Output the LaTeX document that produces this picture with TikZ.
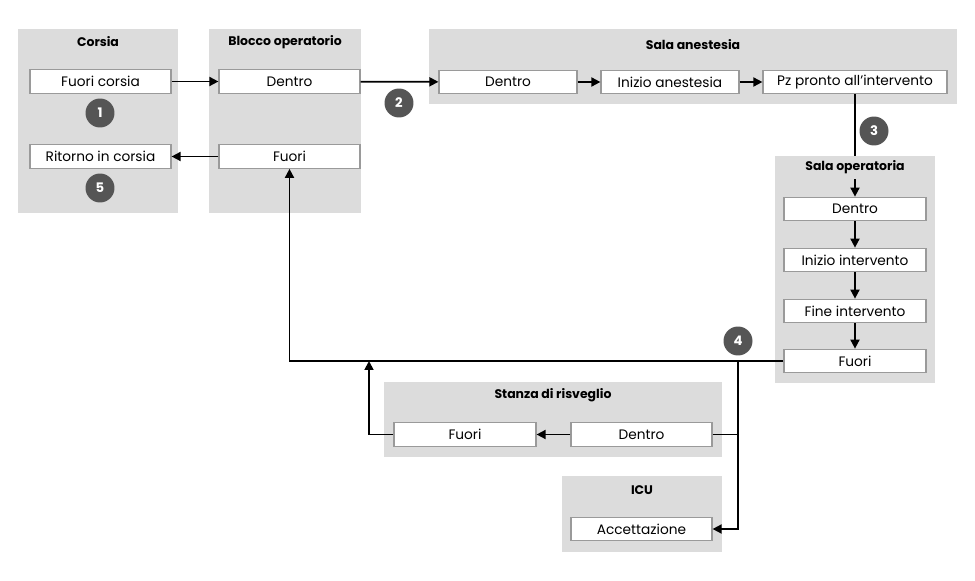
\documentclass[tikz,border=0pt]{standalone}
\usepackage{fontspec}
\setmainfont{Poppins}
\usetikzlibrary{positioning,arrows.meta}
\definecolor{panelgray}{HTML}{DCDCDC}
\definecolor{boxgray}{HTML}{9A9A9A}
\definecolor{stepgray}{HTML}{555555}

\begin{document}
\begin{tikzpicture}[x=0.02cm, y=-0.02cm,
  every node/.style={font=\fontsize{7.8}{9}\selectfont},
  phase/.style={draw=boxgray, line width=0.7pt, fill=white, minimum height=0.47cm, inner sep=0pt},
  roomtitle/.style={font=\fontsize{7.1}{8}\selectfont\bfseries, inner sep=0pt},
  flow/.style={line width=1pt, -{Triangle[length=1.8mm,width=1.8mm]}},
  link/.style={line width=1pt},
  stepnum/.style={circle, fill=stepgray, text=white, minimum size=0.58cm, inner sep=0pt,
    font=\fontsize{7.5}{8}\selectfont\bfseries}]
  \useasboundingbox (0,0) rectangle (975,581);

  %----- rooms (gray panels) -----
  \fill[panelgray] (18,29)  rectangle (178,213);   % Corsia
  \fill[panelgray] (209,29) rectangle (361,213);   % Blocco operatorio
  \fill[panelgray] (429,29) rectangle (957,104);   % Sala anestesia
  \fill[panelgray] (775,156) rectangle (935,383);  % Sala operatoria
  \fill[panelgray] (384,382) rectangle (722,457);  % Stanza di risveglio
  \fill[panelgray] (562,476) rectangle (722,552);  % ICU

  \node[roomtitle] (tco) at (98,42)  {Corsia};
  \node[roomtitle] (tbo) at (285,42) {Blocco operatorio};
  \node[roomtitle] (tsa) at (693,45) {Sala anestesia};
  \node[roomtitle, fill=panelgray, minimum height=0.46cm] (tso) at (855,167.5) {Sala operatoria};
  \node[roomtitle] (tsr) at (553,395) {Stanza di risveglio};
  \node[roomtitle] (ticu) at (642,490) {ICU};

  %----- steps -----
  % Corsia
  \node[phase, minimum width=2.82cm] (fc) at (100.5,81.5)  {Fuori corsia};
  \node[phase, minimum width=2.82cm] (rc) at (100.5,156.5) {Ritorno in corsia};
  % Blocco operatorio
  \node[phase, minimum width=2.82cm] (bd) at (289.5,81.5)  {Dentro};
  \node[phase, minimum width=2.82cm] (bf) at (289.5,156.5) {Fuori};
  % Sala anestesia
  \node[phase, minimum width=2.76cm] (ad) at (508,82) {Dentro};
  \node[phase, minimum width=2.76cm] (ai) at (670,82) {Inizio anestesia};
  \node[phase, minimum width=3.68cm] (pz) at (855,82) {Pz pronto all’intervento};
  % Sala operatoria
  \node[phase, minimum width=2.84cm] (od) at (855,209) {Dentro};
  \node[phase, minimum width=2.84cm] (oi) at (855,260) {Inizio intervento};
  \node[phase, minimum width=2.84cm] (oe) at (855,311) {Fine intervento};
  \node[phase, minimum width=2.84cm] (of) at (855,361) {Fuori};
  % Stanza di risveglio
  \node[phase, minimum width=2.84cm] (rf) at (465,434.5)   {Fuori};
  \node[phase, minimum width=2.82cm] (rd) at (641.5,434.5) {Dentro};
  % ICU
  \node[phase, minimum width=2.82cm] (ia) at (641.5,529) {Accettazione};

  %----- connectors -----
  \draw[flow] (fc) -- (bd);
  \draw[flow] (bd) -- (ad);
  \draw[flow] (ad) -- (ai);
  \draw[flow] (ai) -- (pz);
  \draw[link] (pz) -- (tso);
  \draw[flow] (tso) -- (od);
  \draw[flow] (od) -- (oi);
  \draw[flow] (oi) -- (oe);
  \draw[flow] (oe) -- (of);
  \draw[flow] (of.west) -| (bf.south);
  \coordinate (j4) at (738,361);
  \coordinate (j5) at (369,361);
  \draw[link] (rd.east) -- (rd.east -| j4);
  \draw[flow] (j4) |- (ia.east);
  \draw[flow] (rd) -- (rf);
  \draw[flow] (rf.west) -| (j5);
  \draw[flow] (bf) -- (rc);

  %----- step numbers -----
  \node[stepnum] (n1) at (100,113) {1};
  \node[stepnum] (n2) at (399,103) {2};
  \node[stepnum] (n3) at (874,131) {3};
  \node[stepnum] (n4) at (738,341) {4};
  \node[stepnum] (n5) at (100,188) {5};
\end{tikzpicture}
\end{document}
